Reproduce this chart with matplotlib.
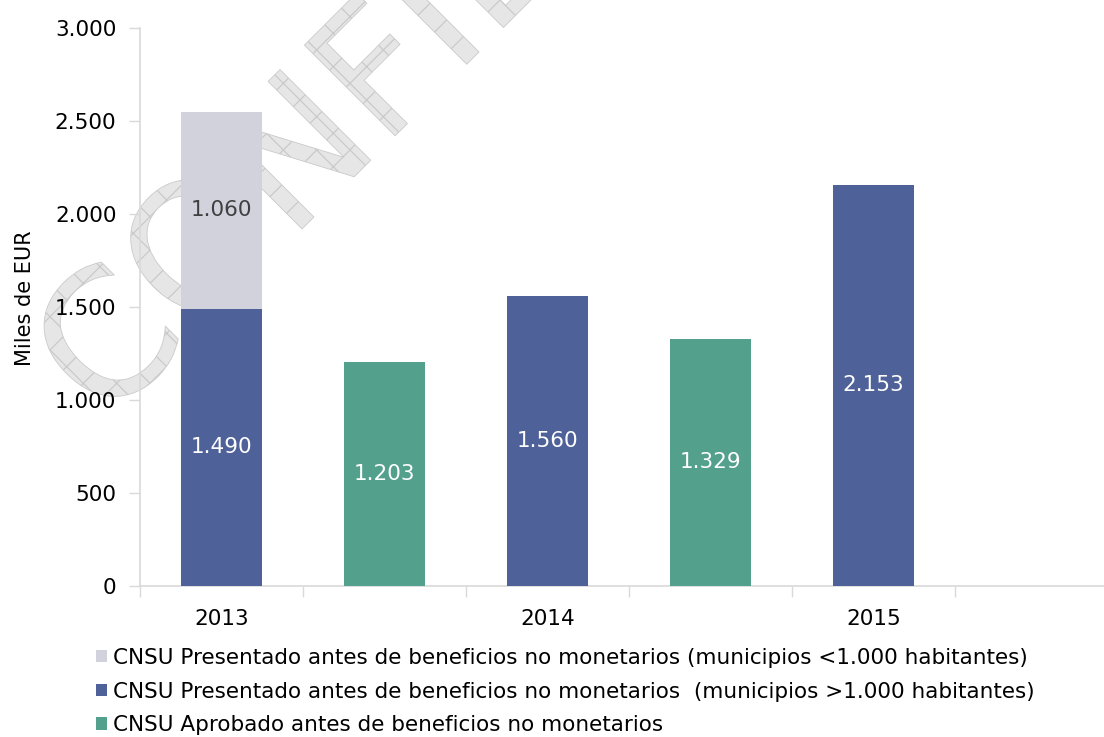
import matplotlib
matplotlib.use('Agg')
import matplotlib.pyplot as plt
from matplotlib.textpath import TextPath
from matplotlib.patches import PathPatch, Patch
from matplotlib.font_manager import FontProperties
import matplotlib.transforms as mtransforms

# ---- data ----
slot_labels = ['2013', '', '2014', '', '2015', '']
pres_big_x = [0, 2, 4]
pres_big = [1490, 1560, 2153]          # Presentado (municipios >1.000 hab.)
pres_small_x = [0]
pres_small = [1060]                    # Presentado (municipios <1.000 hab.)
aprob_x = [1, 3]
aprob = [1203, 1329]                   # Aprobado
yticks = [0, 500, 1000, 1500, 2000, 2500, 3000]
ytick_labels = ['0', '500', '1.000', '1.500', '2.000', '2.500', '3.000']
legend_labels = [
    'CNSU Presentado antes de beneficios no monetarios (municipios <1.000 habitantes)',
    'CNSU Presentado antes de beneficios no monetarios  (municipios >1.000 habitantes)',
    'CNSU Aprobado antes de beneficios no monetarios',
]

def fmt(v):
    return f'{v:,}'.replace(',', '.')

c_small = '#D1D2DC'
c_big = '#4F6199'
c_apr = '#53A08D'
axis_c = '#D9D9D9'

plt.rcParams['font.family'] = ['DejaVu Sans']
plt.rcParams['hatch.linewidth'] = 0.9

W, H, DPI = 1104, 737, 100
fig = plt.figure(figsize=(W / DPI, H / DPI), dpi=DPI)
fig.patch.set_facecolor('white')

# ---- watermark (behind everything) ----
fp = FontProperties(family='DejaVu Sans')
tp = TextPath((0, 0), 'CONFIDENCIAL', size=176, prop=fp)
tr = mtransforms.Affine2D().rotate_deg(45).translate(105, H - 426)
wm = PathPatch(tp, facecolor='#E6E6E6', edgecolor='#CACACA', hatch='x',
               linewidth=0.6, transform=tr, zorder=-5)
fig.add_artist(wm)

left = 140 / W
bottom = (H - 585.5) / H
top = (H - 28) / H
ax = fig.add_axes([left, bottom, 978 / W, top - bottom])
ax.patch.set_alpha(0)

bw = 0.5
ax.bar(pres_big_x, pres_big, width=bw, color=c_big, zorder=3)
ax.bar(pres_small_x, pres_small, width=bw, bottom=[pres_big[pres_big_x.index(x)] for x in pres_small_x],
       color=c_small, zorder=3)
ax.bar(aprob_x, aprob, width=bw, color=c_apr, zorder=3)

fs = 15.5
for x, v in zip(pres_big_x, pres_big):
    ax.text(x, v / 2, fmt(v), ha='center', va='center', color='white', fontsize=fs, zorder=4)
for x, v in zip(pres_small_x, pres_small):
    b = pres_big[pres_big_x.index(x)]
    ax.text(x, b + v / 2, fmt(v), ha='center', va='center', color='#404040', fontsize=fs, zorder=4)
for x, v in zip(aprob_x, aprob):
    ax.text(x, v / 2, fmt(v), ha='center', va='center', color='white', fontsize=fs, zorder=4)

ax.set_xlim(-0.5, 5.5)
ax.set_ylim(0, 3000)
ax.set_yticks(yticks)
ax.set_yticklabels(ytick_labels, fontsize=fs)
ax.set_xticks(range(len(slot_labels)))
ax.set_xticklabels(slot_labels, fontsize=fs)
ax.set_xticks([i - 0.5 for i in range(len(slot_labels) + 1)], minor=True)
ax.tick_params(axis='x', which='major', length=0, pad=17)
ax.tick_params(axis='x', which='minor', length=8, color=axis_c, width=1)
ax.tick_params(axis='y', length=8, color=axis_c, width=1, pad=9)

for s in ['top', 'right']:
    ax.spines[s].set_visible(False)
for s in ['left', 'bottom']:
    ax.spines[s].set_color(axis_c)
    ax.spines[s].set_linewidth(1.2)

fig.text(25 / W, (H - 298) / H, 'Miles de EUR', rotation=90, ha='center', va='center', fontsize=15)

handles = [Patch(facecolor=c_small), Patch(facecolor=c_big), Patch(facecolor=c_apr)]
fig.legend(handles, legend_labels, loc='upper left', bbox_to_anchor=(96 / W, (H - 648) / H),
           frameon=False, fontsize=15.5, handlelength=0.5, handleheight=0.5,
           handletextpad=0.3, labelspacing=0.63, borderaxespad=0, borderpad=0)

fig.savefig('out.png', dpi=DPI)
